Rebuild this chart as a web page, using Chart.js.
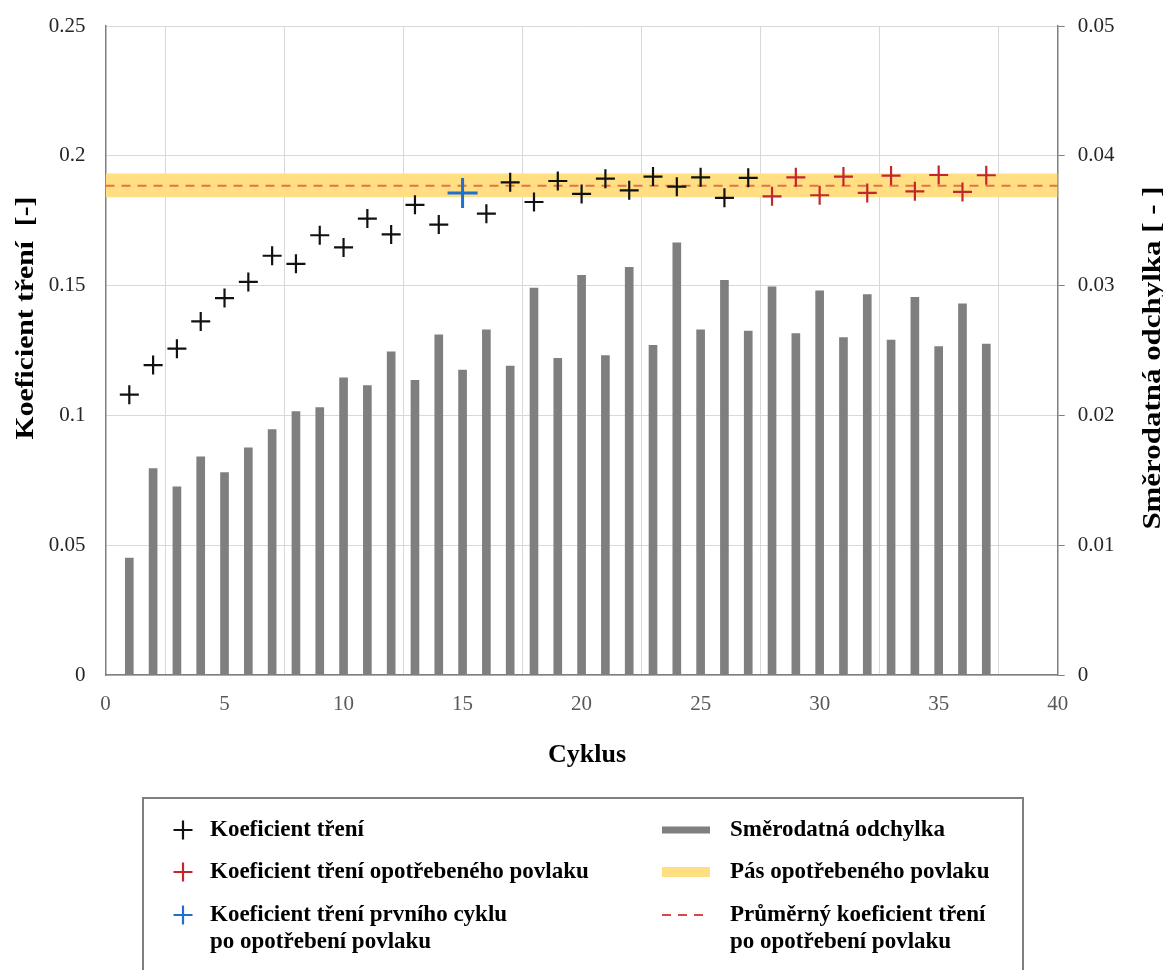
<!DOCTYPE html>
<html>
<head>
<meta charset="utf-8">
<script src="https://cdn.jsdelivr.net/npm/chart.js@4.4.1/dist/chart.umd.min.js"></script>
<style>
  html, body { margin: 0; padding: 0; background: #ffffff; }
  canvas { display: block; }
</style>
</head>
<body>
<canvas id="chart" width="1163" height="970"></canvas>
<script>
// ---- data ----
const cycles = [1, 2, 3, 4, 5, 6, 7, 8, 9, 10, 11, 12, 13, 14, 15, 16, 17, 18, 19, 20,
                21, 22, 23, 24, 25, 26, 27, 28, 29, 30, 31, 32, 33, 34, 35, 36, 37];
const friction = [0.1080, 0.1194, 0.1257, 0.1362, 0.1452, 0.1514, 0.1615, 0.1584, 0.1694, 0.1647,
                  0.1758, 0.1697, 0.1811, 0.1735, 0.1857, 0.1777, 0.1898, 0.1822, 0.1903, 0.1853,
                  0.1912, 0.1867, 0.1920, 0.1881, 0.1917, 0.1838, 0.1915, 0.1844, 0.1917, 0.1848,
                  0.1920, 0.1857, 0.1924, 0.1863, 0.1926, 0.1861, 0.1925];
const stdDev = [0.0090, 0.0159, 0.0145, 0.0168, 0.0156, 0.0175, 0.0189, 0.0203, 0.0206, 0.0229,
                0.0223, 0.0249, 0.0227, 0.0262, 0.0235, 0.0266, 0.0238, 0.0298, 0.0244, 0.0308,
                0.0246, 0.0314, 0.0254, 0.0333, 0.0266, 0.0304, 0.0265, 0.0299, 0.0263, 0.0296,
                0.0260, 0.0293, 0.0258, 0.0291, 0.0253, 0.0286, 0.0255];
const firstCycleAfterWear = 15;   // highlighted cycle
const wornFromCycle = 28;         // cycles of the worn coating
const meanWornFriction = 0.1885;
const wornBandLow = 0.1840;
const wornBandHigh = 0.1932;

const xTicks = [0, 5, 10, 15, 20, 25, 30, 35, 40];
const frictionTicks = [0, 0.05, 0.1, 0.15, 0.2, 0.25];
const stdTicks = [0, 0.01, 0.02, 0.03, 0.04, 0.05];

const xTitle = 'Cyklus';
const yTitle = 'Koeficient tření  [-]';
const y2Title = 'Směrodatná odchylka [ - ]';
const legendItems = [
  ['Koeficient tření'],
  ['Koeficient tření opotřebeného povlaku'],
  ['Koeficient tření prvního cyklu', 'po opotřebení povlaku'],
  ['Směrodatná odchylka'],
  ['Pás opotřebeného povlaku'],
  ['Průměrný koeficient tření', 'po opotřebení povlaku']
];

// ---- styles ----
const C_BLACK = '#111111';
const C_RED = '#C3262E';
const C_BLUE = '#1F6FD1';
const C_BAR = '#7F7F7F';
const C_BAND = '#FFDF82';
const C_MEAN = '#E8704A';
const C_MEAN_LEGEND = '#D9464B';
const SERIF = '"Liberation Serif", "Times New Roman", serif';

// ---- series built from the arrays ----
const pts = cycles.map((c, i) => ({ x: c, y: friction[i] }));
const plainPts = pts.filter(p => p.x !== firstCycleAfterWear && p.x < wornFromCycle);
const firstPts = pts.filter(p => p.x === firstCycleAfterWear);
const wornPts = pts.filter(p => p.x >= wornFromCycle);
const barPts = cycles.map((c, i) => ({ x: c, y: stdDev[i] }));
const xMin = xTicks[0], xMax = xTicks[xTicks.length - 1];

const crossSet = (label, data, color, r, w) => ({
  type: 'scatter', label, data,
  pointStyle: 'cross', pointRadius: r, pointHoverRadius: r,
  borderColor: color, backgroundColor: color, pointBorderWidth: w, borderWidth: w,
  showLine: false, yAxisID: 'y', order: 0
});

// rotated axis title, stretched along its reading direction
function rotatedTitle(ctx, text, x, y, stretch) {
  ctx.save();
  ctx.translate(x, y);
  ctx.rotate(-Math.PI / 2);
  ctx.scale(stretch, 1);
  ctx.fillText(text, 0, 0);
  ctx.restore();
}

const decor = {
  id: 'decor',
  afterDraw(chart) {
    const ctx = chart.ctx;
    ctx.save();
    ctx.fillStyle = '#000';
    ctx.textBaseline = 'alphabetic';
    ctx.textAlign = 'center';
    ctx.font = 'bold 26px ' + SERIF;
    ctx.fillText(xTitle, 587, 762);
    rotatedTitle(ctx, yTitle, 33, 318, 1.14);
    rotatedTitle(ctx, y2Title, 1160, 358, 1.19);

    // legend frame
    ctx.strokeStyle = '#7F7F7F';
    ctx.lineWidth = 2;
    ctx.strokeRect(143, 798, 880, 220);

    const rows = [830, 872, 915];
    const cross = (x, y, r, color, w) => {
      ctx.beginPath();
      ctx.strokeStyle = color; ctx.lineWidth = w; ctx.setLineDash([]);
      ctx.moveTo(x - r, y); ctx.lineTo(x + r, y);
      ctx.moveTo(x, y - r); ctx.lineTo(x, y + r);
      ctx.stroke();
    };
    const seg = (y, color, w, dash) => {
      ctx.beginPath();
      ctx.strokeStyle = color; ctx.lineWidth = w; ctx.setLineDash(dash || []);
      ctx.lineCap = 'butt';
      ctx.moveTo(662, y); ctx.lineTo(710, y);
      ctx.stroke();
      ctx.setLineDash([]);
    };
    cross(183, rows[0], 9.5, C_BLACK, 2.2);
    cross(183, rows[1], 9.5, C_RED, 2.2);
    cross(183, rows[2], 9.5, C_BLUE, 2.2);
    seg(rows[0], C_BAR, 7);
    seg(rows[1], C_BAND, 10);
    seg(rows[2], C_MEAN_LEGEND, 2, [9, 7]);

    ctx.font = 'bold 23px ' + SERIF;
    ctx.textAlign = 'left';
    ctx.textBaseline = 'middle';
    ctx.fillStyle = '#000';
    legendItems.forEach((lines, i) => {
      const x = i < 3 ? 210 : 730;
      const y = rows[i % 3];
      lines.forEach((t, k) => ctx.fillText(t, x, y + k * 27));
    });
    ctx.restore();
  }
};

new Chart(document.getElementById('chart'), {
  type: 'bar',
  data: {
    datasets: [
      crossSet('Koeficient tření', plainPts, C_BLACK, 9.5, 2.2),
      crossSet('Koeficient tření opotřebeného povlaku', wornPts, C_RED, 9.5, 2.2),
      crossSet('Koeficient tření prvního cyklu po opotřebení povlaku', firstPts, C_BLUE, 15, 3),
      {
        type: 'line', label: 'Průměrný koeficient tření po opotřebení povlaku',
        data: [{ x: xMin, y: meanWornFriction }, { x: xMax, y: meanWornFriction }],
        borderColor: C_MEAN, borderWidth: 2, borderDash: [9, 7], pointRadius: 0,
        fill: false, yAxisID: 'y', order: 1
      },
      {
        type: 'line', label: 'band-top',
        data: [{ x: xMin, y: wornBandHigh }, { x: xMax, y: wornBandHigh }],
        borderWidth: 0, borderColor: 'rgba(0,0,0,0)', pointRadius: 0,
        fill: false, yAxisID: 'y', order: 3
      },
      {
        type: 'line', label: 'Pás opotřebeného povlaku',
        data: [{ x: xMin, y: wornBandLow }, { x: xMax, y: wornBandLow }],
        borderWidth: 0, borderColor: 'rgba(0,0,0,0)', pointRadius: 0,
        fill: '-1', backgroundColor: C_BAND, yAxisID: 'y', order: 2
      },
      {
        type: 'bar', label: 'Směrodatná odchylka', data: barPts,
        backgroundColor: C_BAR, borderWidth: 0, barThickness: 8,
        yAxisID: 'y2', order: 4
      }
    ]
  },
  options: {
    responsive: false,
    animation: false,
    events: [],
    layout: { padding: { top: 26, left: 0, right: 0, bottom: 0 } },
    plugins: { legend: { display: false }, tooltip: { enabled: false }, title: { display: false } },
    scales: {
      x: {
        type: 'linear', min: xMin, max: xMax, offset: false,
        afterBuildTicks: s => { s.ticks = xTicks.map(v => ({ value: v })); },
        afterFit: s => { s.height = 295; },
        grid: { color: '#D9D9D9', lineWidth: 1, drawTicks: false },
        border: { color: '#7F7F7F', width: 1.5 },
        ticks: { color: '#595959', padding: 17, font: { family: SERIF, size: 21 }, maxRotation: 0 }
      },
      y: {
        type: 'linear', position: 'left', min: 0, max: 0.25,
        afterBuildTicks: s => { s.ticks = frictionTicks.map(v => ({ value: v })); },
        afterFit: s => { s.width = 105.5; },
        grid: { color: '#D9D9D9', lineWidth: 1, drawTicks: false },
        border: { color: '#7F7F7F', width: 1.5 },
        ticks: { color: '#262626', padding: 20, font: { family: SERIF, size: 21, lineHeight: 0.5 },
                 callback: v => String(v) }
      },
      y2: {
        type: 'linear', position: 'right', min: 0, max: 0.05,
        afterBuildTicks: s => { s.ticks = stdTicks.map(v => ({ value: v })); },
        afterFit: s => { s.width = 105.3; },
        grid: { drawOnChartArea: false, drawTicks: true, tickLength: 7, color: '#7F7F7F' },
        border: { color: '#7F7F7F', width: 1.5 },
        ticks: { color: '#262626', padding: 13, font: { family: SERIF, size: 21, lineHeight: 0.5 },
                 callback: v => String(v) }
      }
    }
  },
  plugins: [decor]
});
</script>
</body>
</html>
